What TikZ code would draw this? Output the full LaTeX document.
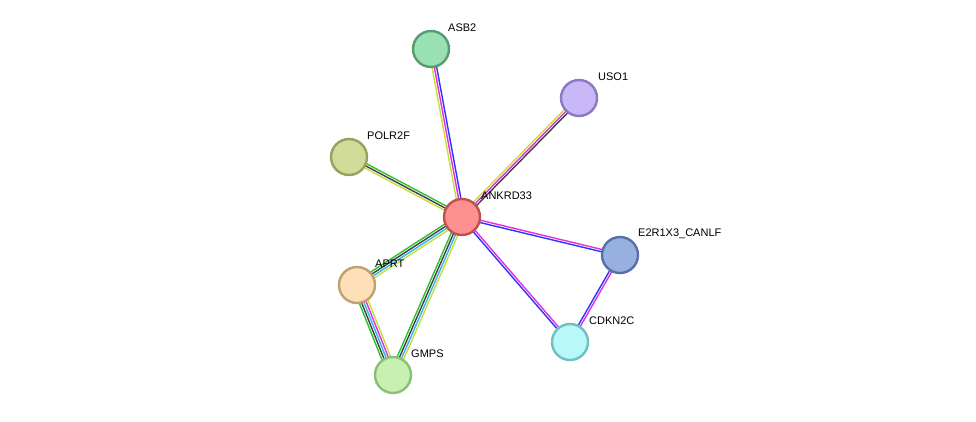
\documentclass[tikz,border=0pt]{standalone}
\usepackage{fontspec}
\setmainfont{Liberation Sans}
\usetikzlibrary{calc}
\definecolor{cY}{HTML}{C8DC3C}
\definecolor{cC}{HTML}{30B8E8}
\definecolor{cK}{HTML}{404040}
\definecolor{cG}{HTML}{30C030}
\definecolor{cM}{HTML}{E030E0}
\definecolor{cB}{HTML}{3030FF}
\newcommand\edg[4]{\foreach \cc [count=\i] in {#4} {\pgfmathsetmacro\oo{(\i-(#3+1)/2)*2.3}
  \draw[\cc, line width=1.4pt] ($(#1)!\oo pt!90:(#2)$) -- ($(#2)!\oo pt!-90:(#1)$);}}
\tikzset{prot/.style={circle, minimum size=36pt, inner sep=0pt, line width=2.4pt},
 lab/.style={anchor=west, font=\fontsize{11pt}{12pt}\selectfont, inner sep=0pt}}
\begin{document}
\begin{tikzpicture}[x=1pt,y=-1pt]
\useasboundingbox (0,0) rectangle (976,421);
\coordinate (A) at (462,217);
\coordinate (S) at (431,49);
\coordinate (U) at (579,98);
\coordinate (P) at (349,157);
\coordinate (E) at (620,255);
\coordinate (R) at (357,285);
\coordinate (C) at (570,342);
\coordinate (G) at (393,375);
\edg{A}{S}{3}{cB,cM,cY}
\edg{A}{U}{3}{cK,cM,cY}
\edg{P}{A}{3}{cY,cK,cG}
\edg{A}{E}{2}{cB,cM}
\edg{A}{C}{2}{cB,cM}
\edg{E}{C}{2}{cB,cM}
\edg{R}{A}{4}{cY,cC,cK,cG}
\edg{G}{A}{4}{cY,cC,cK,cG}
\edg{R}{G}{5}{cG,cK,cC,cM,cY}
\node[prot, fill={rgb,255:red,255;green,144;blue,144}, draw={rgb,255:red,192;green,80;blue,80}] (nA) at (A) {};
\node[prot, fill={rgb,255:red,153;green,224;blue,179}, draw={rgb,255:red,90;green,154;blue,112}] (nS) at (S) {};
\node[prot, fill={rgb,255:red,200;green,184;blue,248}, draw={rgb,255:red,138;green,120;blue,192}] (nU) at (U) {};
\node[prot, fill={rgb,255:red,208;green,220;blue,152}, draw={rgb,255:red,154;green,160;blue,96}] (nP) at (P) {};
\node[prot, fill={rgb,255:red,152;green,176;blue,224}, draw={rgb,255:red,88;green,112;blue,168}] (nE) at (E) {};
\node[prot, fill={rgb,255:red,253;green,224;blue,184}, draw={rgb,255:red,192;green,160;blue,112}] (nR) at (R) {};
\node[prot, fill={rgb,255:red,184;green,248;blue,248}, draw={rgb,255:red,112;green,192;blue,192}] (nC) at (C) {};
\node[prot, fill={rgb,255:red,200;green,240;blue,176}, draw={rgb,255:red,136;green,192;blue,120}] (nG) at (G) {};
\node[lab] (lS) at (448,28) {ASB2};
\node[lab] (lU) at (598,77) {USO1};
\node[lab] (lP) at (367,136) {POLR2F};
\node[lab] (lA) at (481,196) {ANKRD33};
\node[lab] (lE) at (638,234) {E2R1X3\_CANLF};
\node[lab] (lR) at (375,264) {APRT};
\node[lab] (lC) at (589,321) {CDKN2C};
\node[lab] (lG) at (411,354) {GMPS};
\end{tikzpicture}
\end{document}
